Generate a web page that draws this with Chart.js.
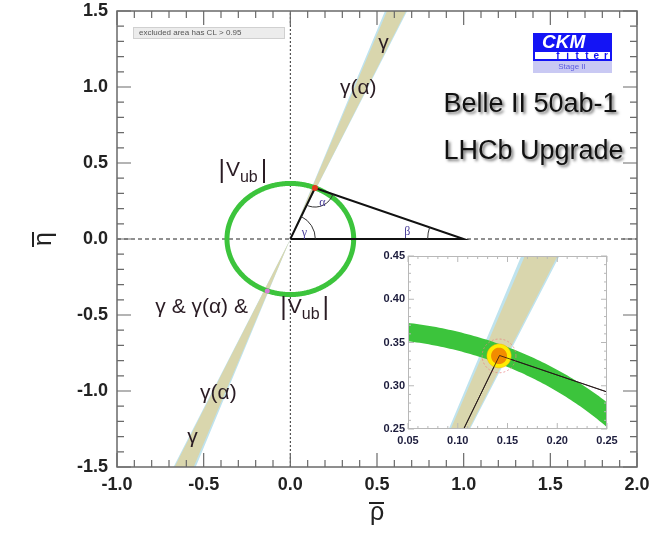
<!DOCTYPE html>
<html><head><meta charset="utf-8">
<script src="https://cdn.jsdelivr.net/npm/chart.js@4.4.1/dist/chart.umd.min.js"></script>
<style>
html,body{margin:0;padding:0;background:#fff;}
#wrap{position:relative;width:664px;height:533px;overflow:hidden;}
#main{position:absolute;left:0;top:0;}
#inset{position:absolute;left:360px;top:250px;}
</style></head><body>
<div id="wrap"><canvas id="main" width="664" height="533"></canvas><canvas id="inset" width="262" height="200"></canvas></div>
<script>
// ---------- data ----------
const xTickLabels = ['-1.0','-0.5','0.0','0.5','1.0','1.5','2.0'];
const yTickLabels = ['-1.5','-1.0','-0.5','0.0','0.5','1.0','1.5'];
const insetXTickLabels = ['0.05','0.10','0.15','0.20','0.25'];
const insetYTickLabels = ['0.25','0.30','0.35','0.40','0.45'];
const rhoRange = [-1.0, 2.0];
const etaRange = [-1.5, 1.5];
const insetRhoRange = [0.05, 0.25];
const insetEtaRange = [0.25, 0.45];
const triangleRho = [0, 0.142, 1.0, 0];
const triangleEta = [0, 0.335, 0, 0];
const gammaBandDeg = [66.0, 69.6];        // gamma constraint (khaki)
const gammaAlphaBandDeg = [65.8, 70.0];   // gamma(alpha) constraint (light blue)
const vubRadius = [0.355, 0.376];         // |Vub| ring
const fitCenter = [0.1415, 0.3345];
const fit68 = [0.0080, 0.0095];           // half-widths (rho, eta)
const fit95 = [0.0122, 0.0138];
const fit99 = [0.0170, 0.0195];
const mirrorSolution = [-0.133, -0.342];

// ---------- helpers ----------
const FONT = '"Liberation Sans", Arial, Helvetica, sans-serif';
const rad = d => d * Math.PI / 180;
function wedge(d, h) {
  const c1 = h / Math.tan(rad(d[0])), c2 = h / Math.tan(rad(d[1]));
  return [{x:0,y:0},{x:c1,y:h},{x:c2,y:h},{x:0,y:0},{x:-c2,y:-h},{x:-c1,y:-h},{x:0,y:0}];
}
function ring(r, n) {
  const p = [];
  for (let i = 0; i <= n; i++) { const t = 2*Math.PI*i/n; p.push({x:r[1]*Math.cos(t), y:r[1]*Math.sin(t)}); }
  for (let i = n; i >= 0; i--) { const t = 2*Math.PI*i/n; p.push({x:r[0]*Math.cos(t), y:r[0]*Math.sin(t)}); }
  return p;
}
function ellipse(c, r, n) {
  const p = [];
  for (let i = 0; i <= n; i++) { const t = 2*Math.PI*i/n; p.push({x:c[0]+r[0]*Math.cos(t), y:c[1]+r[1]*Math.sin(t)}); }
  return p;
}
const triPts = triangleRho.map((x, i) => ({x, y: triangleEta[i]}));
const apex = {x: triangleRho[1], y: triangleEta[1]};
const labelFor = (arr) => (v) => { const l = arr.find(s => Math.abs(parseFloat(s) - v) < 1e-6); return l === undefined ? '' : l; };

function drawTicks(ctx, xs, ys, a, xr, yr, xstep, ystep, major, minor, every) {
  ctx.beginPath();
  const nx = Math.round((xr[1]-xr[0])/xstep), ny = Math.round((yr[1]-yr[0])/ystep);
  for (let i = 0; i <= nx; i++) {
    const px = xs.getPixelForValue(xr[0] + i*xstep); const L = (i % every === 0) ? major : minor;
    ctx.moveTo(px, a.bottom); ctx.lineTo(px, a.bottom - L);
    ctx.moveTo(px, a.top); ctx.lineTo(px, a.top + L);
  }
  for (let i = 0; i <= ny; i++) {
    const py = ys.getPixelForValue(yr[0] + i*ystep); const L = (i % every === 0) ? major : minor;
    ctx.moveTo(a.left, py); ctx.lineTo(a.left + L, py);
    ctx.moveTo(a.right, py); ctx.lineTo(a.right - L, py);
  }
  ctx.stroke();
}
function drawVub(ctx, x, y, S, color) {
  ctx.fillStyle = color; ctx.textAlign = 'left'; ctx.textBaseline = 'middle';
  const bar = `${Math.round(S*1.25)}px ${FONT}`;
  ctx.font = bar; ctx.fillText('|', x, y + 1); x += ctx.measureText('|').width + 1;
  ctx.font = `${S+1}px ${FONT}`; ctx.fillText('V', x, y); x += ctx.measureText('V').width;
  ctx.font = `${Math.round(S*0.8)}px ${FONT}`; ctx.fillText('ub', x, y + S*0.38); x += ctx.measureText('ub').width + 3;
  ctx.font = bar; ctx.fillText('|', x, y + 1);
}
const fitV = (w) => (s) => { s.width = w; s.paddingTop = 0; s.paddingBottom = 0; };
const fitH = (h) => (s) => { s.height = h; s.paddingLeft = 0; s.paddingRight = 0; };

// ---------- main chart ----------
const labelColor = '#2a1c24';
const mainDeco = {
  id: 'mainDeco',
  afterDatasetsDraw(chart) {
    const {ctx, chartArea: a, scales: {x: xs, y: ys}} = chart;
    const X = v => xs.getPixelForValue(v), Y = v => ys.getPixelForValue(v);
    ctx.save();
    // frame and inward ticks
    ctx.strokeStyle = '#6a6a6a'; ctx.lineWidth = 1.5;
    ctx.strokeRect(a.left, a.top, a.right - a.left, a.bottom - a.top);
    ctx.lineWidth = 1.2;
    drawTicks(ctx, xs, ys, a, rhoRange, etaRange, 0.1, 0.1, 14, 7, 5);
    // axis titles with overbars
    ctx.fillStyle = '#222'; ctx.strokeStyle = '#222'; ctx.lineWidth = 2;
    ctx.font = `25px ${FONT}`; ctx.textAlign = 'center'; ctx.textBaseline = 'alphabetic';
    const tx = X(0.5);
    ctx.fillText('ρ', tx, 520);
    ctx.beginPath(); ctx.moveTo(tx - 8, 503); ctx.lineTo(tx + 7, 503); ctx.stroke();
    ctx.save();
    ctx.translate(51, Y(0)); ctx.rotate(-Math.PI / 2);
    ctx.fillText('η', 0, 0);
    ctx.beginPath(); ctx.moveTo(-8, -18); ctx.lineTo(7, -18); ctx.stroke();
    ctx.restore();
    // angle arcs
    const O = {x: X(triangleRho[0]), y: Y(triangleEta[0])};
    const A = {x: X(triangleRho[1]), y: Y(triangleEta[1])};
    const B = {x: X(triangleRho[2]), y: Y(triangleEta[2])};
    ctx.strokeStyle = '#333'; ctx.lineWidth = 1;
    ctx.beginPath(); ctx.arc(O.x, O.y, 25, Math.atan2(A.y - O.y, A.x - O.x), Math.atan2(B.y - O.y, B.x - O.x)); ctx.stroke();
    ctx.beginPath(); ctx.arc(A.x, A.y, 19, Math.atan2(B.y - A.y, B.x - A.x), Math.atan2(O.y - A.y, O.x - A.x)); ctx.stroke();
    ctx.beginPath(); ctx.arc(B.x, B.y, 36, Math.PI, Math.atan2(A.y - B.y, A.x - B.x) + 2*Math.PI); ctx.stroke();
    ctx.fillStyle = '#4a3f9a'; ctx.font = '12px "Liberation Serif", "DejaVu Serif", serif';
    ctx.textAlign = 'center'; ctx.textBaseline = 'middle';
    ctx.fillText('α', X(0.185), Y(0.237));
    ctx.fillText('γ', X(0.081), Y(0.033) - 1);
    ctx.fillText('β', X(0.675), Y(0.046));
    // constraint labels
    const dy = -1;
    ctx.fillStyle = labelColor; ctx.font = `21px ${FONT}`;
    ctx.fillText('γ', X(0.537), Y(1.283) + dy);
    ctx.fillText('γ(α)', X(0.392), Y(0.987) + dy);
    ctx.fillText('γ(α)', X(-0.415), Y(-1.020) + dy);
    ctx.fillText('γ', X(-0.565), Y(-1.309) + dy);
    drawVub(ctx, X(-0.415), Y(0.447) + dy, 20, labelColor);
    ctx.font = `21px ${FONT}`; ctx.textAlign = 'left'; ctx.fillStyle = labelColor;
    ctx.fillText('γ & γ(α) &', X(-0.779), Y(-0.454) + dy);
    drawVub(ctx, X(-0.058), Y(-0.454) + dy, 20, labelColor);
    // big text with shadow
    ctx.save();
    ctx.shadowColor = 'rgba(0,0,0,0.55)'; ctx.shadowBlur = 3; ctx.shadowOffsetX = 2; ctx.shadowOffsetY = 2;
    ctx.fillStyle = '#111'; ctx.font = `27px ${FONT}`; ctx.textAlign = 'left'; ctx.textBaseline = 'middle';
    ctx.fillText('Belle II 50ab-1', X(0.883), Y(0.888) + 1);
    ctx.fillText('LHCb Upgrade', X(0.883), Y(0.579) + 1);
    ctx.restore();
    // "excluded area" box
    ctx.fillStyle = '#ececec'; ctx.strokeStyle = '#d0d0d0'; ctx.lineWidth = 1;
    ctx.fillRect(133, 27, 151, 11); ctx.strokeRect(133.5, 27.5, 151, 11);
    ctx.fillStyle = '#555'; ctx.font = `8px ${FONT}`; ctx.textAlign = 'left'; ctx.textBaseline = 'middle';
    ctx.fillText('excluded area has CL > 0.95', 139, 33);
    // CKMfitter logo
    ctx.fillStyle = '#1414f5'; ctx.fillRect(533, 33, 79, 28);
    ctx.fillStyle = '#ffffff'; ctx.fillRect(535, 52, 75, 7);
    ctx.font = `italic bold 19px ${FONT}`; ctx.textAlign = 'left'; ctx.fillText('CKM', 542, 43);
    ctx.fillStyle = '#1414f5'; ctx.font = `bold 10px ${FONT}`; ctx.textAlign = 'center';
    'fitter'.split('').forEach((ch, i) => ctx.fillText(ch, 558 + i*9.6, 56));
    ctx.fillStyle = '#c9c9f3'; ctx.fillRect(533, 61, 79, 12);
    ctx.fillStyle = '#5a5ae0'; ctx.font = `8px ${FONT}`; ctx.fillText('Stage II', 572, 67);
    ctx.restore();
  }
};

const curve = { showLine: true, pointRadius: 0, tension: 0.2 };

new Chart(document.getElementById('main'), {
  type: 'scatter',
  data: { datasets: [
    { data: wedge(gammaAlphaBandDeg, 1.7), showLine: true, fill: 'shape', backgroundColor: '#bfe3ee', borderColor: 'transparent', borderWidth: 0, pointRadius: 0, order: 11 },
    { data: wedge(gammaBandDeg, 1.7), showLine: true, fill: 'shape', backgroundColor: '#d9d6ad', borderColor: 'transparent', borderWidth: 0, pointRadius: 0, order: 10 },
    { data: [{x: rhoRange[0], y: 0}, {x: rhoRange[1], y: 0}], showLine: true, borderColor: '#222', borderWidth: 1, borderDash: [4, 3], pointRadius: 0, order: 8 },
    { data: [{x: 0, y: etaRange[0]}, {x: 0, y: etaRange[1]}], showLine: true, borderColor: '#333', borderWidth: 1, borderDash: [2, 2], pointRadius: 0, order: 8 },
    { ...curve, data: ellipse([0, 0], [(vubRadius[0]+vubRadius[1])/2, (vubRadius[0]+vubRadius[1])/2], 240), borderColor: '#3cc43c', borderWidth: 5, order: 5 },
    { data: triPts, showLine: true, borderColor: '#111', borderWidth: 2, pointRadius: 0, order: 3 },
    { data: [apex], pointRadius: 3, pointBackgroundColor: '#e23a1c', pointBorderWidth: 0, order: 1 },
    { data: [{x: mirrorSolution[0], y: mirrorSolution[1]}], pointRadius: 2.5, pointBackgroundColor: '#d67ad6', pointBorderWidth: 0, order: 1 }
  ]},
  options: {
    responsive: false, animation: false, events: [],
    layout: { autoPadding: false, padding: { left: 0, top: 11, right: 27, bottom: 0 } },
    plugins: { legend: { display: false }, tooltip: { enabled: false } },
    scales: {
      x: {
        type: 'linear', min: rhoRange[0], max: rhoRange[1],
        grid: { display: false, drawTicks: false }, border: { display: false },
        ticks: { stepSize: 0.5, autoSkip: false, maxRotation: 0, callback: labelFor(xTickLabels), color: '#222', padding: 7, font: { family: FONT, size: 18, weight: 'bold' } },
        afterFit: fitH(66)
      },
      y: {
        type: 'linear', min: etaRange[0], max: etaRange[1],
        grid: { display: false, drawTicks: false }, border: { display: false },
        ticks: { stepSize: 0.5, autoSkip: false, callback: labelFor(yTickLabels), color: '#222', padding: 9, font: { family: FONT, size: 18, weight: 'bold' } },
        afterFit: fitV(117)
      }
    }
  },
  plugins: [mainDeco]
});

// ---------- inset chart ----------
const insetDeco = {
  id: 'insetDeco',
  beforeDatasetsDraw(chart) {
    const {ctx, chartArea: a} = chart;
    ctx.save(); ctx.fillStyle = '#fff'; ctx.fillRect(a.left, a.top, a.right - a.left, a.bottom - a.top); ctx.restore();
  },
  afterDatasetsDraw(chart) {
    const {ctx, chartArea: a, scales: {x: xs, y: ys}} = chart;
    ctx.save();
    ctx.strokeStyle = '#b8b8b8'; ctx.lineWidth = 1;
    ctx.strokeRect(a.left + 0.5, a.top + 0.5, a.right - a.left - 1, a.bottom - a.top - 1);
    drawTicks(ctx, xs, ys, a, insetRhoRange, insetEtaRange, 0.01, 0.01, 6, 3, 5);
    ctx.restore();
  }
};
new Chart(document.getElementById('inset'), {
  type: 'scatter',
  data: { datasets: [
    { data: wedge(gammaAlphaBandDeg, 1.0), showLine: true, fill: 'shape', backgroundColor: '#bfe3ee', borderColor: 'transparent', borderWidth: 0, pointRadius: 0, order: 11 },
    { data: wedge(gammaBandDeg, 1.0), showLine: true, fill: 'shape', backgroundColor: '#d9d6ad', borderColor: 'transparent', borderWidth: 0, pointRadius: 0, order: 10 },
    { data: ring(vubRadius, 720), showLine: true, fill: 'shape', backgroundColor: '#3cc43c', borderColor: 'transparent', borderWidth: 0, pointRadius: 0, order: 6 },
    { data: triPts, showLine: true, borderColor: '#222', borderWidth: 1, pointRadius: 0, order: 5 },
    { ...curve, data: ellipse(fitCenter, fit99, 120), borderColor: 'rgba(232,130,130,0.75)', borderWidth: 1, borderDash: [2, 2], order: 4 },
    { ...curve, data: ellipse(fitCenter, fit95, 120), fill: 'shape', backgroundColor: '#ffec00', borderColor: '#f0b000', borderWidth: 0.5, order: 3 },
    { ...curve, data: ellipse(fitCenter, fit68, 120), fill: 'shape', backgroundColor: '#f28c00', borderColor: 'transparent', borderWidth: 0, order: 2 },
    { data: triPts.slice(0, 3), showLine: true, borderColor: 'rgba(40,20,20,0.8)', borderWidth: 1, pointRadius: 0, order: 1 }
  ]},
  options: {
    responsive: false, animation: false, events: [],
    layout: { autoPadding: false, padding: { left: 0, top: 6, right: 15, bottom: 0 } },
    plugins: { legend: { display: false }, tooltip: { enabled: false } },
    scales: {
      x: {
        type: 'linear', min: insetRhoRange[0], max: insetRhoRange[1],
        grid: { display: false, drawTicks: false }, border: { display: false },
        ticks: { stepSize: 0.05, autoSkip: false, maxRotation: 0, callback: labelFor(insetXTickLabels), color: '#1c1c3c', padding: 5, font: { family: FONT, size: 11, weight: 'bold' } },
        afterFit: fitH(21)
      },
      y: {
        type: 'linear', min: insetEtaRange[0], max: insetEtaRange[1],
        grid: { display: false, drawTicks: false }, border: { display: false },
        ticks: { stepSize: 0.05, autoSkip: false, callback: labelFor(insetYTickLabels), color: '#1c1c3c', padding: 3, font: { family: FONT, size: 11, weight: 'bold' } },
        afterFit: fitV(48)
      }
    }
  },
  plugins: [insetDeco]
});
</script>
</body></html>
